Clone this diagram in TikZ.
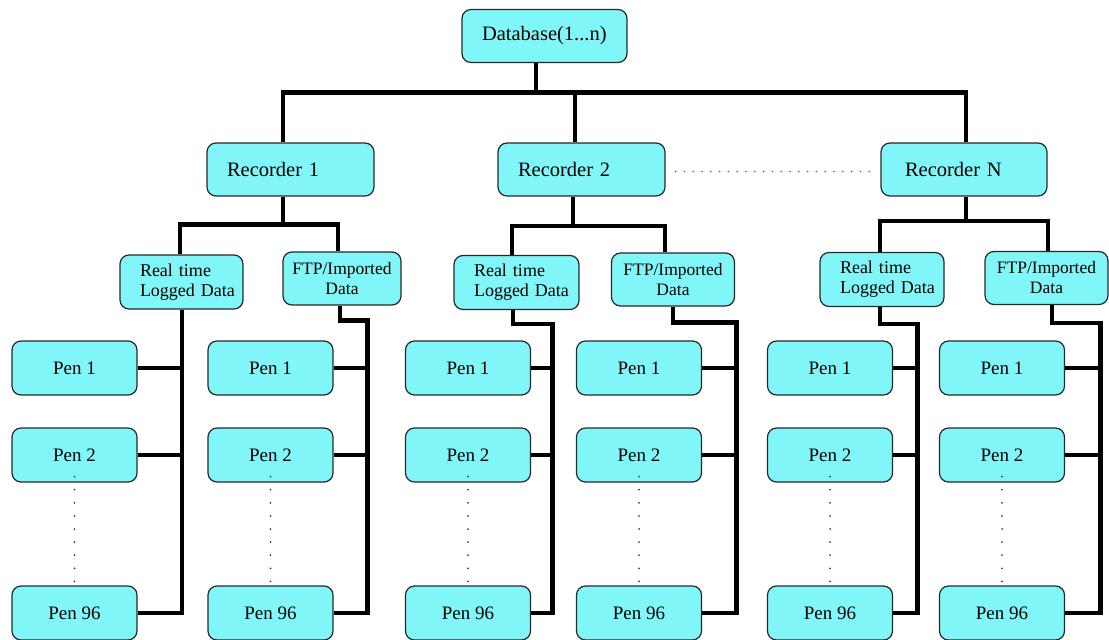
\documentclass[tikz,border=0pt]{standalone}
\usepackage{fontspec}
\setmainfont{Liberation Serif}
\definecolor{boxcyan}{RGB}{128,246,248}
\definecolor{boxline}{RGB}{40,40,40}
\tikzset{
  cbox/.style={draw=boxline, line width=1.2pt, fill=boxcyan, rounded corners=9pt, inner sep=0pt},
  topbox/.style={cbox, minimum height=53pt, text width=127pt, inner xsep=20pt, align=left,
                 font=\fontsize{20.5}{24}\selectfont},
  rtbox/.style={cbox, minimum height=54pt, text width=83pt, inner xsep=20pt, align=left,
                font=\fontsize{18}{20}\selectfont},
  ftpbox/.style={cbox, minimum height=53pt, minimum width=123pt, align=center,
                 font=\fontsize{17.5}{20}\selectfont},
  penbox/.style={cbox, minimum height=54pt, minimum width=125pt, align=center,
                 font=\fontsize{19}{22}\selectfont},
  conn/.style={line width=4.5pt, line join=miter, draw=black},
  vdots/.style={draw=black!75, line width=2pt, line cap=round, dash pattern=on 0pt off 13.1pt},
  hdots/.style={draw=black!60, line width=1.8pt, line cap=round, dash pattern=on 0pt off 8.8pt}
}
\begin{document}
\begin{tikzpicture}[x=1pt,y=-1pt]
\fill[white] (0,0) rectangle (1109,640);
\useasboundingbox (0,0) rectangle (1109,640);

% top level
\node[topbox, text width=125pt] (db) at (544.5,36) {Database(1...n)};
\node[topbox] (rec1) at (290.5,169.5) {Recorder 1};
\node[topbox] (rec2) at (581.5,169.5) {Recorder 2};
\node[topbox, text width=126pt, inner xsep=20pt] (recN) at (964,169.5) {\hspace*{4pt}Recorder N};

% second level
\node[rtbox] (rt1) at (181.5,282) {Real time\\Logged~Data};
\node[ftpbox, minimum width=118pt] (ftp1) at (342,278.5) {FTP/Imported\\Data};
\node[rtbox, text width=85pt] (rt2) at (516.5,282.5) {Real time\\Logged~Data};
\node[ftpbox] (ftp2) at (673,279.5) {FTP/Imported\\Data};
\node[rtbox, text width=84pt] (rtN) at (882,279.5) {Real time\\Logged~Data};
\node[ftpbox] (ftpN) at (1046.5,278) {FTP/Imported\\Data};

% pens
\foreach \c/\x in {1/74.5, 2/270.5, 3/468, 4/639, 5/830, 6/1002}{
  \node[penbox] (p\c1) at (\x,368) {Pen 1};
  \node[penbox] (p\c2) at (\x,455) {Pen 2};
  \node[penbox] (p\c96) at (\x,613) {Pen 96};
  \draw[vdots] ([yshift=6pt]p\c2.south) -- ([yshift=-6pt]p\c96.north);
}

% top connectors
\draw[conn] ([xshift=-8.5pt]db.south) -- ++(0,31);
\draw[conn] ([xshift=-7.5pt]rec1.north) -- ++(0,-50) -| ([xshift=2pt]recN.north);
\draw[conn] ([xshift=-6.5pt]rec2.north) -- ++(0,-50);

% recorder to second level
\draw[conn] ([xshift=-7.5pt]rec1.south) -- ++(0,29);
\draw[conn] ([xshift=-1.5pt]rt1.north) -- ++(0,-30) -| ([xshift=-4pt]ftp1.north);
\draw[conn] ([xshift=-8.5pt]rec2.south) -- ++(0,31);
\draw[conn] ([xshift=-4.5pt]rt2.north) -- ++(0,-29) -| ([xshift=-8pt]ftp2.north);
\draw[conn] ([xshift=2pt]recN.south) -- ++(0,26);
\draw[conn] ([xshift=-2pt]rtN.north) -- ++(0,-31) -| ([xshift=1.5pt]ftpN.north);

% dotted link between recorders
\draw[hdots] ([xshift=10pt,yshift=-2pt]rec2.east) -- ([xshift=-8pt,yshift=-2pt]recN.west);

% second level to pens
\draw[conn] ([xshift=0.5pt]rt1.south) |- (p196.east);
\draw[conn] (p11.east) -- ++(45,0);
\draw[conn] (p12.east) -- ++(45,0);

\draw[conn] ([xshift=-2pt]ftp1.south) -- ++(0,15) -| ([xshift=34pt]p296.east) -- (p296.east);
\draw[conn] (p21.east) -- ++(34,0);
\draw[conn] (p22.east) -- ++(34,0);

\draw[conn] ([xshift=-3.5pt]rt2.south) -- ++(0,14) -| ([xshift=21.5pt]p396.east) -- (p396.east);
\draw[conn] (p31.east) -- ++(21.5,0);
\draw[conn] (p32.east) -- ++(21.5,0);

\draw[conn] (ftp2.south) -- ++(0,16) -| ([xshift=34.5pt]p496.east) -- (p496.east);
\draw[conn] (p41.east) -- ++(34.5,0);
\draw[conn] (p42.east) -- ++(34.5,0);

\draw[conn] ([xshift=-2pt]rtN.south) -- ++(0,17) -| ([xshift=24.5pt]p596.east) -- (p596.east);
\draw[conn] (p51.east) -- ++(24.5,0);
\draw[conn] (p52.east) -- ++(24.5,0);

\draw[conn] ([xshift=5.5pt]ftpN.south) -- ++(0,18) -| ([xshift=35.5pt]p696.east) -- (p696.east);
\draw[conn] (p61.east) -- ++(35.5,0);
\draw[conn] (p62.east) -- ++(35.5,0);
\end{tikzpicture}
\end{document}
